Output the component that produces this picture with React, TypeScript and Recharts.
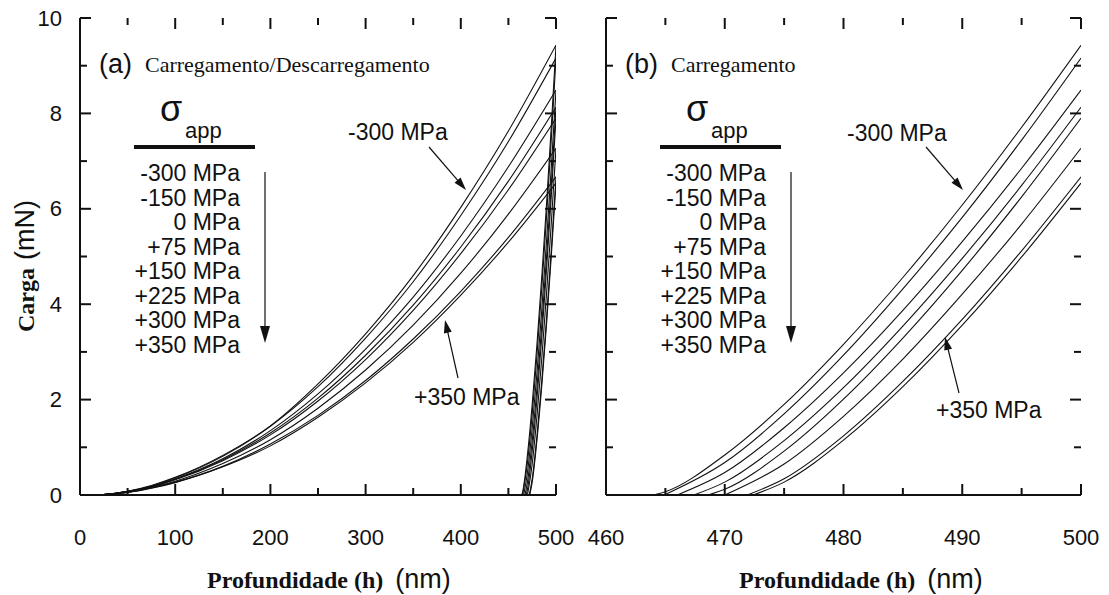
import React from 'react';
import { LineChart, Line, XAxis, YAxis, ReferenceLine } from 'recharts';

// ---------- data ----------
const stressLabels = ['-300 MPa', '-150 MPa', '0 MPa', '+75 MPa', '+150 MPa', '+225 MPa', '+300 MPa', '+350 MPa'];

// loading (carregamento) curves, depth in nm, load in mN
const loadDepth = [0, 25, 50, 75, 100, 150, 200, 250, 300, 350, 400, 450, 500];
const loadM300 = [0, 0.01, 0.08, 0.2, 0.37, 0.83, 1.45, 2.33, 3.38, 4.6, 6.03, 7.63, 9.43];
const loadM150 = [0, 0.01, 0.08, 0.19, 0.36, 0.81, 1.44, 2.27, 3.29, 4.47, 5.86, 7.41, 9.16];
const load0 = [0, 0.01, 0.07, 0.18, 0.34, 0.76, 1.35, 2.12, 3.06, 4.15, 5.43, 6.88, 8.49];
const loadP75 = [0, 0.01, 0.07, 0.18, 0.33, 0.74, 1.3, 2.03, 2.93, 3.98, 5.2, 6.58, 8.13];
const loadP150 = [0, 0.01, 0.07, 0.17, 0.32, 0.72, 1.26, 1.97, 2.84, 3.87, 5.06, 6.4, 7.9];
const loadP225 = [0, 0.01, 0.06, 0.16, 0.29, 0.66, 1.16, 1.82, 2.62, 3.56, 4.65, 5.89, 7.27];
const loadP300 = [0, 0.01, 0.06, 0.15, 0.27, 0.6, 1.07, 1.67, 2.4, 3.27, 4.27, 5.4, 6.67];
const loadP350 = [0, 0.01, 0.05, 0.14, 0.26, 0.59, 1.03, 1.63, 2.35, 3.2, 4.19, 5.3, 6.54];

// unloading (descarregamento) curves
const unloadDepthM300 = [464, 465, 470, 475, 480, 485, 490, 495, 500];
const unloadM300 = [0, 0.07, 0.84, 1.9, 3.16, 4.56, 6.08, 7.71, 9.43];
const unloadDepthM150 = [464.9, 470, 475, 480, 485, 490, 495, 500];
const unloadM150 = [0, 0.68, 1.7, 2.93, 4.32, 5.82, 7.44, 9.16];
const unloadDepth0 = [466, 470, 475, 480, 485, 490, 495, 500];
const unload0 = [0, 0.47, 1.41, 2.56, 3.87, 5.31, 6.85, 8.49];
const unloadDepthP75 = [467.4, 470, 475, 480, 485, 490, 495, 500];
const unloadP75 = [0, 0.27, 1.14, 2.25, 3.54, 4.96, 6.49, 8.13];
const unloadDepthP150 = [468.6, 470, 475, 480, 485, 490, 495, 500];
const unloadP150 = [0, 0.12, 0.92, 2.01, 3.29, 4.71, 6.25, 7.9];
const unloadDepthP225 = [470, 475, 480, 485, 490, 495, 500];
const unloadP225 = [0, 0.65, 1.65, 2.85, 4.21, 5.68, 7.27];
const unloadDepthP300 = [471.9, 475, 480, 485, 490, 495, 500];
const unloadP300 = [0, 0.34, 1.24, 2.38, 3.68, 5.12, 6.67];
const unloadDepthP350 = [472.4, 475, 480, 485, 490, 495, 500];
const unloadP350 = [0, 0.27, 1.15, 2.27, 3.56, 4.99, 6.54];

// ticks
const leftXTicks = [0, 50, 100, 150, 200, 250, 300, 350, 400, 450, 500];
const rightXTicks = [460, 465, 470, 475, 480, 485, 490, 495, 500];
const yTicks = [0, 1, 2, 3, 4, 5, 6, 7, 8, 9, 10];

// ---------- build series ----------
const toPts = (hs: number[], ps: number[]) => hs.map((h, i) => ({ h, p: ps[i] }));
const loadSeries = [loadM300, loadM150, load0, loadP75, loadP150, loadP225, loadP300, loadP350].map((ps) =>
  toPts(loadDepth, ps)
);
const unloadSeries = [
  toPts(unloadDepthM300, unloadM300),
  toPts(unloadDepthM150, unloadM150),
  toPts(unloadDepth0, unload0),
  toPts(unloadDepthP75, unloadP75),
  toPts(unloadDepthP150, unloadP150),
  toPts(unloadDepthP225, unloadP225),
  toPts(unloadDepthP300, unloadP300),
  toPts(unloadDepthP350, unloadP350),
];

const SANS = '"Liberation Sans", Arial, sans-serif';
const SERIF = '"Liberation Serif", "Times New Roman", serif';
const INK = '#111';

function makeLabel(side: string, isMajor: (v: number) => boolean, showLabel: boolean) {
  return (props: any) => {
    const { x, y, payload } = props;
    const v = payload.value;
    if (!showLabel || !isMajor(v)) return <g />;
    if (side === 'bottom')
      return (
        <text x={x} y={y + 42} textAnchor="middle" dominantBaseline="central" fontSize={22} fontFamily={SANS} fill={INK}>
          {v}
        </text>
      );
    return (
      <text x={x - 18} y={y} textAnchor="end" dominantBaseline="central" fontSize={22} fontFamily={SANS} fill={INK}>
        {v}
      </text>
    );
  };
}

const axisLine = { stroke: INK, strokeWidth: 2 };
const evenMajor = (v: number) => v % 2 === 0;
const hundredMajor = (v: number) => v % 100 === 0;
const tenMajor = (v: number) => v % 10 === 0;

const Y_PER_PX = 10 / 477;

function Panel({ left, width, xDomain, xTicks, xMajor, xPerPx, yWidth, rightMargin, showY, series }: any) {
  const [x0, x1] = xDomain;
  const tickSegs: any[] = [];
  const tk = { stroke: INK, strokeWidth: 2, ifOverflow: 'visible' as const };
  xTicks.forEach((v: number) => {
    const len = (xMajor(v) ? 11 : 7) * Y_PER_PX;
    tickSegs.push(<ReferenceLine key={'b' + v} segment={[{ x: v, y: 0 }, { x: v, y: len }]} {...tk} />);
    tickSegs.push(<ReferenceLine key={'t' + v} segment={[{ x: v, y: 10 }, { x: v, y: 10 - len }]} {...tk} />);
  });
  yTicks.forEach((v: number) => {
    const len = (evenMajor(v) ? 11 : 7) * xPerPx;
    tickSegs.push(<ReferenceLine key={'l' + v} segment={[{ x: x0, y: v }, { x: x0 + len, y: v }]} {...tk} />);
    tickSegs.push(<ReferenceLine key={'r' + v} segment={[{ x: x1, y: v }, { x: x1 - len, y: v }]} {...tk} />);
  });
  return (
    <div style={{ position: 'absolute', left, top: 0 }}>
      <LineChart width={width} height={595} margin={{ top: 18, right: rightMargin, bottom: 0, left: 0 }}>
        <XAxis
          dataKey="h"
          type="number"
          domain={xDomain}
          ticks={xTicks}
          interval={0}
          allowDataOverflow
          height={100}
          tickSize={0}
          tickMargin={0}
          axisLine={axisLine}
          tickLine={false}
          tick={makeLabel('bottom', xMajor, true)}
        />
        <XAxis
          xAxisId="top"
          orientation="top"
          type="number"
          domain={xDomain}
          ticks={xTicks}
          allowDataOverflow
          height={0}
          tickSize={0}
          axisLine={axisLine}
          tickLine={false}
          tick={false}
        />
        <YAxis
          type="number"
          domain={[0, 10]}
          ticks={yTicks}
          interval={0}
          allowDataOverflow
          width={yWidth}
          tickSize={0}
          tickMargin={0}
          axisLine={axisLine}
          tickLine={false}
          tick={makeLabel('left', evenMajor, showY)}
        />
        <YAxis
          yAxisId="right"
          orientation="right"
          type="number"
          domain={[0, 10]}
          ticks={yTicks}
          allowDataOverflow
          width={0}
          tickSize={0}
          axisLine={axisLine}
          tickLine={false}
          tick={false}
        />
        {tickSegs}
        {series.map((d: any, i: number) => (
          <Line
            key={i}
            data={d}
            dataKey="p"
            type="monotone"
            stroke={INK}
            strokeWidth={1.1}
            dot={false}
            activeDot={false}
            isAnimationActive={false}
          />
        ))}
      </LineChart>
    </div>
  );
}

function Arrow({ x1, y1, x2, y2, head = 13, half = 4 }: any) {
  const dx = x2 - x1;
  const dy = y2 - y1;
  const L = Math.sqrt(dx * dx + dy * dy);
  const ux = dx / L;
  const uy = dy / L;
  const bx = x2 - ux * head;
  const by = y2 - uy * head;
  const pts = `${x2},${y2} ${bx - uy * half},${by + ux * half} ${bx + uy * half},${by - ux * half}`;
  return (
    <g>
      <line x1={x1} y1={y1} x2={bx + ux * 2} y2={by + uy * 2} stroke={INK} strokeWidth={1.2} />
      <polygon points={pts} fill={INK} />
    </g>
  );
}

function Annotations({ dx, title }: any) {
  return (
    <g>
      <text x={99 + dx} y={73} fontFamily={SANS} fontSize={27} fill={INK}>
        {dx === 0 ? '(a)' : '(b)'}
      </text>
      <text x={145 + dx} y={72} fontFamily={SERIF} fontSize={22} fill={INK}>
        {title}
      </text>
      <text x={160 + dx} y={121} fontFamily={SANS} fontSize={36} fill={INK}>
        σ
      </text>
      <text x={185 + dx} y={138} fontFamily={SANS} fontSize={22} fill={INK}>
        app
      </text>
      <line x1={134 + dx} y1={147} x2={255 + dx} y2={147} stroke={INK} strokeWidth={4} />
      {stressLabels.map((s, i) => (
        <text
          key={s}
          x={240 + dx}
          y={173 + i * 24.5}
          textAnchor="end"
          dominantBaseline="central"
          fontFamily={SANS}
          fontSize={23}
          fill={INK}
        >
          {s}
        </text>
      ))}
      <Arrow x1={265 + dx} y1={172} x2={265 + dx} y2={343} head={17} half={5} />
    </g>
  );
}

export default function App() {
  return (
    <div style={{ position: 'absolute', left: 0, top: 0, width: 1109, height: 595, background: '#fff', overflow: 'hidden' }}>
      <Panel
        left={0}
        width={580}
        xDomain={[0, 500]}
        xTicks={leftXTicks}
        xMajor={hundredMajor}
        xPerPx={500 / 476}
        yWidth={80}
        rightMargin={24}
        showY={true}
        series={[...loadSeries, ...unloadSeries]}
      />
      <Panel
        left={580}
        width={529}
        xDomain={[460, 500]}
        xTicks={rightXTicks}
        xMajor={tenMajor}
        xPerPx={40 / 475}
        yWidth={26}
        rightMargin={28}
        showY={false}
        series={unloadSeries}
      />
      <svg width={1109} height={595} style={{ position: 'absolute', left: 0, top: 0, pointerEvents: 'none' }}>
        <Annotations dx={0} title="Carregamento/Descarregamento" />
        <Annotations dx={526} title="Carregamento" />
        {/* left panel callouts */}
        <text x={348} y={132} dominantBaseline="central" fontFamily={SANS} fontSize={23} fill={INK}>
          -300 MPa
        </text>
        <Arrow x1={429} y1={147} x2={466} y2={190} />
        <text x={414} y={397} dominantBaseline="central" fontFamily={SANS} fontSize={23} fill={INK}>
          +350 MPa
        </text>
        <Arrow x1={458} y1={378} x2={445} y2={320} />
        {/* right panel callouts */}
        <text x={847} y={133} dominantBaseline="central" fontFamily={SANS} fontSize={23} fill={INK}>
          -300 MPa
        </text>
        <Arrow x1={926} y1={147} x2={963} y2={190} />
        <text x={936} y={410} dominantBaseline="central" fontFamily={SANS} fontSize={23} fill={INK}>
          +350 MPa
        </text>
        <Arrow x1={959} y1={393} x2={945} y2={337} />
        {/* axis titles */}
        <text x={207} y={588} fill={INK}>
          <tspan fontFamily={SERIF} fontWeight="bold" fontSize={24}>
            Profundidade (h)
          </tspan>
          <tspan dx={12} fontFamily={SANS} fontSize={27}>
            (nm)
          </tspan>
        </text>
        <text x={739} y={588} fill={INK}>
          <tspan fontFamily={SERIF} fontWeight="bold" fontSize={24}>
            Profundidade (h)
          </tspan>
          <tspan dx={12} fontFamily={SANS} fontSize={27}>
            (nm)
          </tspan>
        </text>
        <text x={34} y={332} transform="rotate(-90 34 332)" fill={INK}>
          <tspan fontFamily={SERIF} fontWeight="bold" fontSize={24}>
            Carga
          </tspan>
          <tspan dx={8} fontFamily={SANS} fontSize={27}>
            (mN)
          </tspan>
        </text>
      </svg>
    </div>
  );
}
